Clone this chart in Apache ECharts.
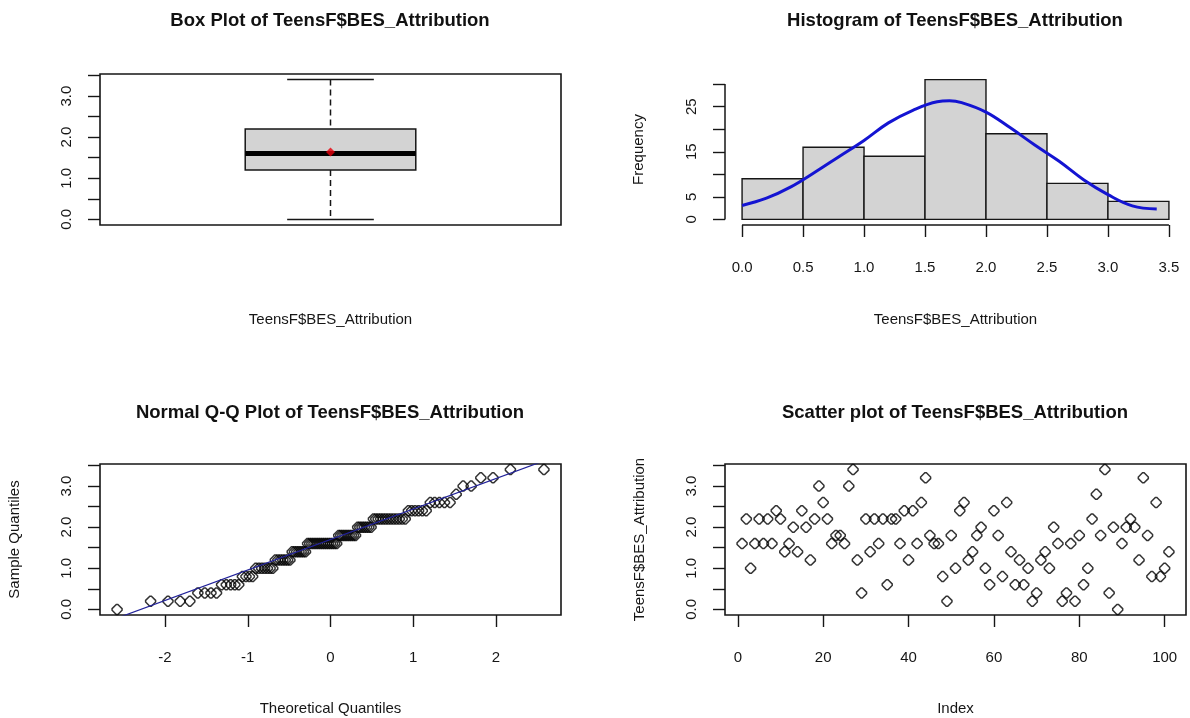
<!DOCTYPE html>
<html>
<head>
<meta charset="utf-8">
<script src="https://cdn.jsdelivr.net/npm/echarts@6/dist/echarts.min.js"></script>
<style>
html,body{margin:0;padding:0;background:#fff;}
#chart{width:1190px;height:718px;}
</style>
</head>
<body>
<div id="chart"></div>
<script>
// BES attribution score per respondent, in index order 1..101
const attribution = [
  1.6, 2.2, 1.0, 1.6, 2.2, 1.6, 2.2, 1.6, 2.4, 2.2,
  1.4, 1.6, 2.0, 1.4, 2.4, 2.0, 1.2, 2.2, 3.0, 2.6,
  2.2, 1.6, 1.8, 1.8, 1.6, 3.0, 3.4, 1.2, 0.4, 2.2,
  1.4, 2.2, 1.6, 2.2, 0.6, 2.2, 2.2, 1.6, 2.4, 1.2,
  2.4, 1.6, 2.6, 3.2, 1.8, 1.6, 1.6, 0.8, 0.2, 1.8,
  1.0, 2.4, 2.6, 1.2, 1.4, 1.8, 2.0, 1.0, 0.6, 2.4,
  1.8, 0.8, 2.6, 1.4, 0.6, 1.2, 0.6, 1.0, 0.2, 0.4,
  1.2, 1.4, 1.0, 2.0, 1.6, 0.2, 0.4, 1.6, 0.2, 1.8,
  0.6, 1.0, 2.2, 2.8, 1.8, 3.4, 0.4, 2.0, 0.0, 1.6,
  2.0, 2.2, 2.0, 1.2, 3.2, 1.8, 0.8, 2.6, 0.8, 1.0,
  1.4
];

// five-number summary: min, lower hinge, median, upper hinge, max
const boxStats = [0.0, 1.2, 1.6, 2.2, 3.4];
const boxMean = 1.64;

// histogram bins and counts
const binEdges = [0, 0.5, 1.0, 1.5, 2.0, 2.5, 3.0, 3.5];
const binCounts = [9, 16, 14, 31, 19, 8, 4];

// normal density overlay, scaled to frequency
const curveX = [0, 0.2, 0.4, 0.6, 0.8, 1.0, 1.2, 1.4, 1.6, 1.7, 1.8, 2.0, 2.2, 2.4, 2.6, 2.8, 3.0, 3.2, 3.4];
const curveY = [3.1, 4.7, 7.2, 10.5, 14.0, 17.5, 21.4, 24.2, 26.1, 26.3, 25.9, 23.8, 20.3, 16.5, 12.9, 8.8, 5.5, 3.0, 2.3];

// quartiles used for the Q-Q reference line
const qqQuartiles = [1.2, 2.2];

// tick positions and labelled ticks
const scoreTicks = [0, 0.5, 1.0, 1.5, 2.0, 2.5, 3.0, 3.5];
const scoreLabels = [0, 1, 2, 3];
const freqTicks = [0, 5, 10, 15, 20, 25, 30];
const freqLabels = [0, 5, 15, 25];
const binTicks = [0, 0.5, 1.0, 1.5, 2.0, 2.5, 3.0, 3.5];
const qqTicks = [-2, -1, 0, 1, 2];
const indexTicks = [0, 20, 40, 60, 80, 100];

const VAR = 'TeensF$BES_Attribution';

// inverse standard normal CDF (Acklam)
function qnorm(p) {
  const a = [-3.969683028665376e+01, 2.209460984245205e+02, -2.759285104469687e+02, 1.383577518672690e+02, -3.066479806614716e+01, 2.506628277459239e+00];
  const b = [-5.447609879822406e+01, 1.615858368580409e+02, -1.556989798598866e+02, 6.680131188771972e+01, -1.328068155288572e+01];
  const c = [-7.784894002430293e-03, -3.223964580411365e-01, -2.400758277161838e+00, -2.549732539343734e+00, 4.374664141464968e+00, 2.938163982698783e+00];
  const d = [7.784695709041462e-03, 3.224671290700398e-01, 2.445134137142996e+00, 3.754408661907416e+00];
  const pl = 0.02425;
  let q, r;
  if (p < pl) {
    q = Math.sqrt(-2 * Math.log(p));
    return (((((c[0]*q+c[1])*q+c[2])*q+c[3])*q+c[4])*q+c[5]) / ((((d[0]*q+d[1])*q+d[2])*q+d[3])*q+1);
  }
  if (p > 1 - pl) {
    q = Math.sqrt(-2 * Math.log(1 - p));
    return -(((((c[0]*q+c[1])*q+c[2])*q+c[3])*q+c[4])*q+c[5]) / ((((d[0]*q+d[1])*q+d[2])*q+d[3])*q+1);
  }
  q = p - 0.5; r = q * q;
  return (((((a[0]*r+a[1])*r+a[2])*r+a[3])*r+a[4])*r+a[5])*q / (((((b[0]*r+b[1])*r+b[2])*r+b[3])*r+b[4])*r+1);
}

// R-style axis range: data range widened by 4% each side
function padRange(lo, hi) {
  const d = (hi - lo) * 0.04;
  return [lo - d, hi + d];
}

// Q-Q points: sorted sample against normal plotting positions
const n = attribution.length;
const sorted = attribution.slice().sort((x, y) => x - y);
const qqPoints = sorted.map((v, i) => [qnorm((i + 1 - 0.5) / n), v]);
const qqX = padRange(qqPoints[0][0], qqPoints[n - 1][0]);
const z25 = qnorm(0.25), z75 = qnorm(0.75);
const qqSlope = (qqQuartiles[1] - qqQuartiles[0]) / (z75 - z25);
const qqIntercept = qqQuartiles[0] - qqSlope * z25;
const qqLine = [qqX[0], qqX[1]].map(x => [x, qqIntercept + qqSlope * x]);

const scoreRange = padRange(Math.min(...attribution), Math.max(...attribution));
const histX = padRange(binEdges[0], binEdges[binEdges.length - 1]);
const histY = padRange(0, Math.max(...binCounts));
const idxRange = padRange(1, n);

const INK = '#161616';
const FONT = 'Liberation Sans, Arial, sans-serif';
const TICK_FS = 15;
const NAME_FS = 15;

const tickStyle = { show: true, length: 12, lineStyle: { color: INK, width: 1.4 } };
const labelStyle = { color: INK, fontFamily: FONT, fontSize: TICK_FS };
const nameStyle = { color: INK, fontFamily: FONT, fontSize: NAME_FS };
const noLine = { show: false, onZero: false };

function yAxisScore(gridIndex, name) {
  return {
    type: 'value', gridIndex, min: scoreRange[0], max: scoreRange[1],
    axisLine: noLine, splitLine: { show: false },
    axisTick: Object.assign({ customValues: scoreTicks }, tickStyle),
    axisLabel: Object.assign({ customValues: scoreLabels, rotate: 90, margin: 26,
      formatter: v => v.toFixed(1) }, labelStyle),
    name: name || '', nameLocation: 'middle', nameGap: 78, nameRotate: 90, nameTextStyle: nameStyle
  };
}

const gridBase = { width: 461, height: 151, show: true, borderColor: INK, borderWidth: 1.6, backgroundColor: 'transparent' };
const grids = [
  Object.assign({}, gridBase, { left: 100, top: 74 }),
  Object.assign({}, gridBase, { left: 725, top: 74, show: false }),
  Object.assign({}, gridBase, { left: 100, top: 464 }),
  Object.assign({}, gridBase, { left: 725, top: 464 })
];

const titleStyle = { color: '#111', fontFamily: FONT, fontSize: 18.5, fontWeight: 'bold' };
const titles = [
  { text: 'Box Plot of ' + VAR, left: 330, top: 11 },
  { text: 'Histogram of ' + VAR, left: 955, top: 11 },
  { text: 'Normal Q-Q Plot of ' + VAR, left: 330, top: 403 },
  { text: 'Scatter plot of ' + VAR, left: 955, top: 403 }
].map(t => Object.assign(t, { textAlign: 'center', textStyle: titleStyle, padding: 0 }));

const hollowMarker = 'path://M4.2,0 L5.8,0 L10,4.2 L10,5.8 L5.8,10 L4.2,10 L0,5.8 L0,4.2 Z';

const option = {
  animation: false,
  backgroundColor: '#fff',
  title: titles,
  grid: grids,
  xAxis: [
    { type: 'value', gridIndex: 0, min: 0, max: 1,
      axisLine: noLine, axisTick: { show: false }, axisLabel: { show: false }, splitLine: { show: false },
      name: VAR, nameLocation: 'middle', nameGap: 87, nameTextStyle: nameStyle },
    { type: 'value', gridIndex: 1, min: histX[0], max: histX[1],
      axisLine: noLine, splitLine: { show: false },
      axisTick: Object.assign({ customValues: binTicks }, tickStyle),
      axisLabel: Object.assign({ customValues: binTicks, margin: 35, formatter: v => v.toFixed(1) }, labelStyle),
      name: VAR, nameLocation: 'middle', nameGap: 87, nameTextStyle: nameStyle },
    { type: 'value', gridIndex: 2, min: qqX[0], max: qqX[1],
      axisLine: noLine, splitLine: { show: false },
      axisTick: Object.assign({ customValues: qqTicks }, tickStyle),
      axisLabel: Object.assign({ customValues: qqTicks, margin: 35, formatter: v => String(v) }, labelStyle),
      name: 'Theoretical Quantiles', nameLocation: 'middle', nameGap: 86, nameTextStyle: nameStyle },
    { type: 'value', gridIndex: 3, min: idxRange[0], max: idxRange[1],
      axisLine: noLine, splitLine: { show: false },
      axisTick: Object.assign({ customValues: indexTicks }, tickStyle),
      axisLabel: Object.assign({ customValues: indexTicks, margin: 35, formatter: v => String(v) }, labelStyle),
      name: 'Index', nameLocation: 'middle', nameGap: 86, nameTextStyle: nameStyle }
  ],
  yAxis: [
    yAxisScore(0, ''),
    { type: 'value', gridIndex: 1, min: histY[0], max: histY[1],
      axisLine: noLine, splitLine: { show: false },
      axisTick: Object.assign({ customValues: freqTicks }, tickStyle),
      axisLabel: Object.assign({ customValues: freqLabels, rotate: 90, margin: 26, formatter: v => String(v) }, labelStyle),
      name: 'Frequency', nameLocation: 'middle', nameGap: 79, nameRotate: 90, nameTextStyle: nameStyle },
    yAxisScore(2, 'Sample Quantiles'),
    yAxisScore(3, VAR)
  ],
  series: [
    // box plot: box, thick median, dashed whiskers and caps
    { type: 'custom', xAxisIndex: 0, yAxisIndex: 0, silent: true,
      data: [[0.5].concat(boxStats)],
      renderItem(params, api) {
        const cx = api.value(0);
        const lo = api.value(1), q1 = api.value(2), med = api.value(3), q3 = api.value(4), hi = api.value(5);
        const halfBox = 0.185, halfCap = 0.094;
        const tl = api.coord([cx - halfBox, q3]);
        const br = api.coord([cx + halfBox, q1]);
        const mL = api.coord([cx - halfBox, med]);
        const mR = api.coord([cx + halfBox, med]);
        const cTop = api.coord([cx, hi]);
        const cQ3 = api.coord([cx, q3]);
        const cQ1 = api.coord([cx, q1]);
        const cBot = api.coord([cx, lo]);
        const capL = api.coord([cx - halfCap, hi])[0];
        const capR = api.coord([cx + halfCap, hi])[0];
        const line = (x1, y1, x2, y2, style) => ({ type: 'line', shape: { x1, y1, x2, y2 }, style });
        const solid = { stroke: INK, lineWidth: 1.5 };
        const dashed = { stroke: INK, lineWidth: 1.5, lineDash: [6, 4] };
        return { type: 'group', children: [
          line(cTop[0], cTop[1], cQ3[0], cQ3[1], dashed),
          line(cQ1[0], cQ1[1], cBot[0], cBot[1], dashed),
          line(capL, cTop[1], capR, cTop[1], solid),
          line(capL, cBot[1], capR, cBot[1], solid),
          { type: 'rect', shape: { x: tl[0], y: tl[1], width: br[0] - tl[0], height: br[1] - tl[1] },
            style: { fill: '#d3d3d3', stroke: INK, lineWidth: 1.5 } },
          line(mL[0], mL[1], mR[0], mR[1], { stroke: '#000', lineWidth: 5 })
        ] };
      }
    },
    { type: 'scatter', xAxisIndex: 0, yAxisIndex: 0, silent: true,
      data: [[0.5, boxMean]], symbol: 'diamond', symbolSize: 9,
      itemStyle: { color: '#e8000b' } },

    // histogram bars
    { type: 'custom', xAxisIndex: 1, yAxisIndex: 1, silent: true,
      data: binCounts.map((c, i) => [binEdges[i], binEdges[i + 1], c]),
      renderItem(params, api) {
        const p0 = api.coord([api.value(0), api.value(2)]);
        const p1 = api.coord([api.value(1), 0]);
        return { type: 'rect', shape: { x: p0[0], y: p0[1], width: p1[0] - p0[0], height: p1[1] - p0[1] },
          style: { fill: '#d3d3d3', stroke: INK, lineWidth: 1.4 } };
      }
    },
    // histogram axis lines spanning first to last tick
    { type: 'custom', xAxisIndex: 1, yAxisIndex: 1, silent: true, clip: false,
      data: [[0, 0]],
      renderItem(params, api) {
        const xa = api.coord([binTicks[0], histY[0]]);
        const xb = api.coord([binTicks[binTicks.length - 1], histY[0]]);
        const ya = api.coord([histX[0], freqTicks[0]]);
        const yb = api.coord([histX[0], freqTicks[freqTicks.length - 1]]);
        const st = { stroke: INK, lineWidth: 1.5 };
        return { type: 'group', children: [
          { type: 'line', shape: { x1: xa[0], y1: xa[1], x2: xb[0], y2: xb[1] }, style: st },
          { type: 'line', shape: { x1: ya[0], y1: ya[1], x2: yb[0], y2: yb[1] }, style: st }
        ] };
      }
    },
    { type: 'line', xAxisIndex: 1, yAxisIndex: 1, silent: true, smooth: 0.4, showSymbol: false,
      data: curveX.map((x, i) => [x, curveY[i]]),
      lineStyle: { color: '#1414d2', width: 3 } },

    // normal Q-Q plot
    { type: 'line', xAxisIndex: 2, yAxisIndex: 2, silent: true, showSymbol: false, clip: true,
      data: qqLine, lineStyle: { color: '#22229a', width: 1.2 } },
    { type: 'scatter', xAxisIndex: 2, yAxisIndex: 2, silent: true,
      data: qqPoints, symbol: hollowMarker, symbolSize: 10,
      itemStyle: { color: 'transparent', borderColor: '#000', borderWidth: 1.5 } },

    // index scatter
    { type: 'scatter', xAxisIndex: 3, yAxisIndex: 3, silent: true,
      data: attribution.map((v, i) => [i + 1, v]), symbol: hollowMarker, symbolSize: 10,
      itemStyle: { color: 'transparent', borderColor: '#000', borderWidth: 1.5 } }
  ]
};

const chart = echarts.init(document.getElementById('chart'), null, { renderer: 'canvas' });
chart.setOption(option);
</script>
</body>
</html>
